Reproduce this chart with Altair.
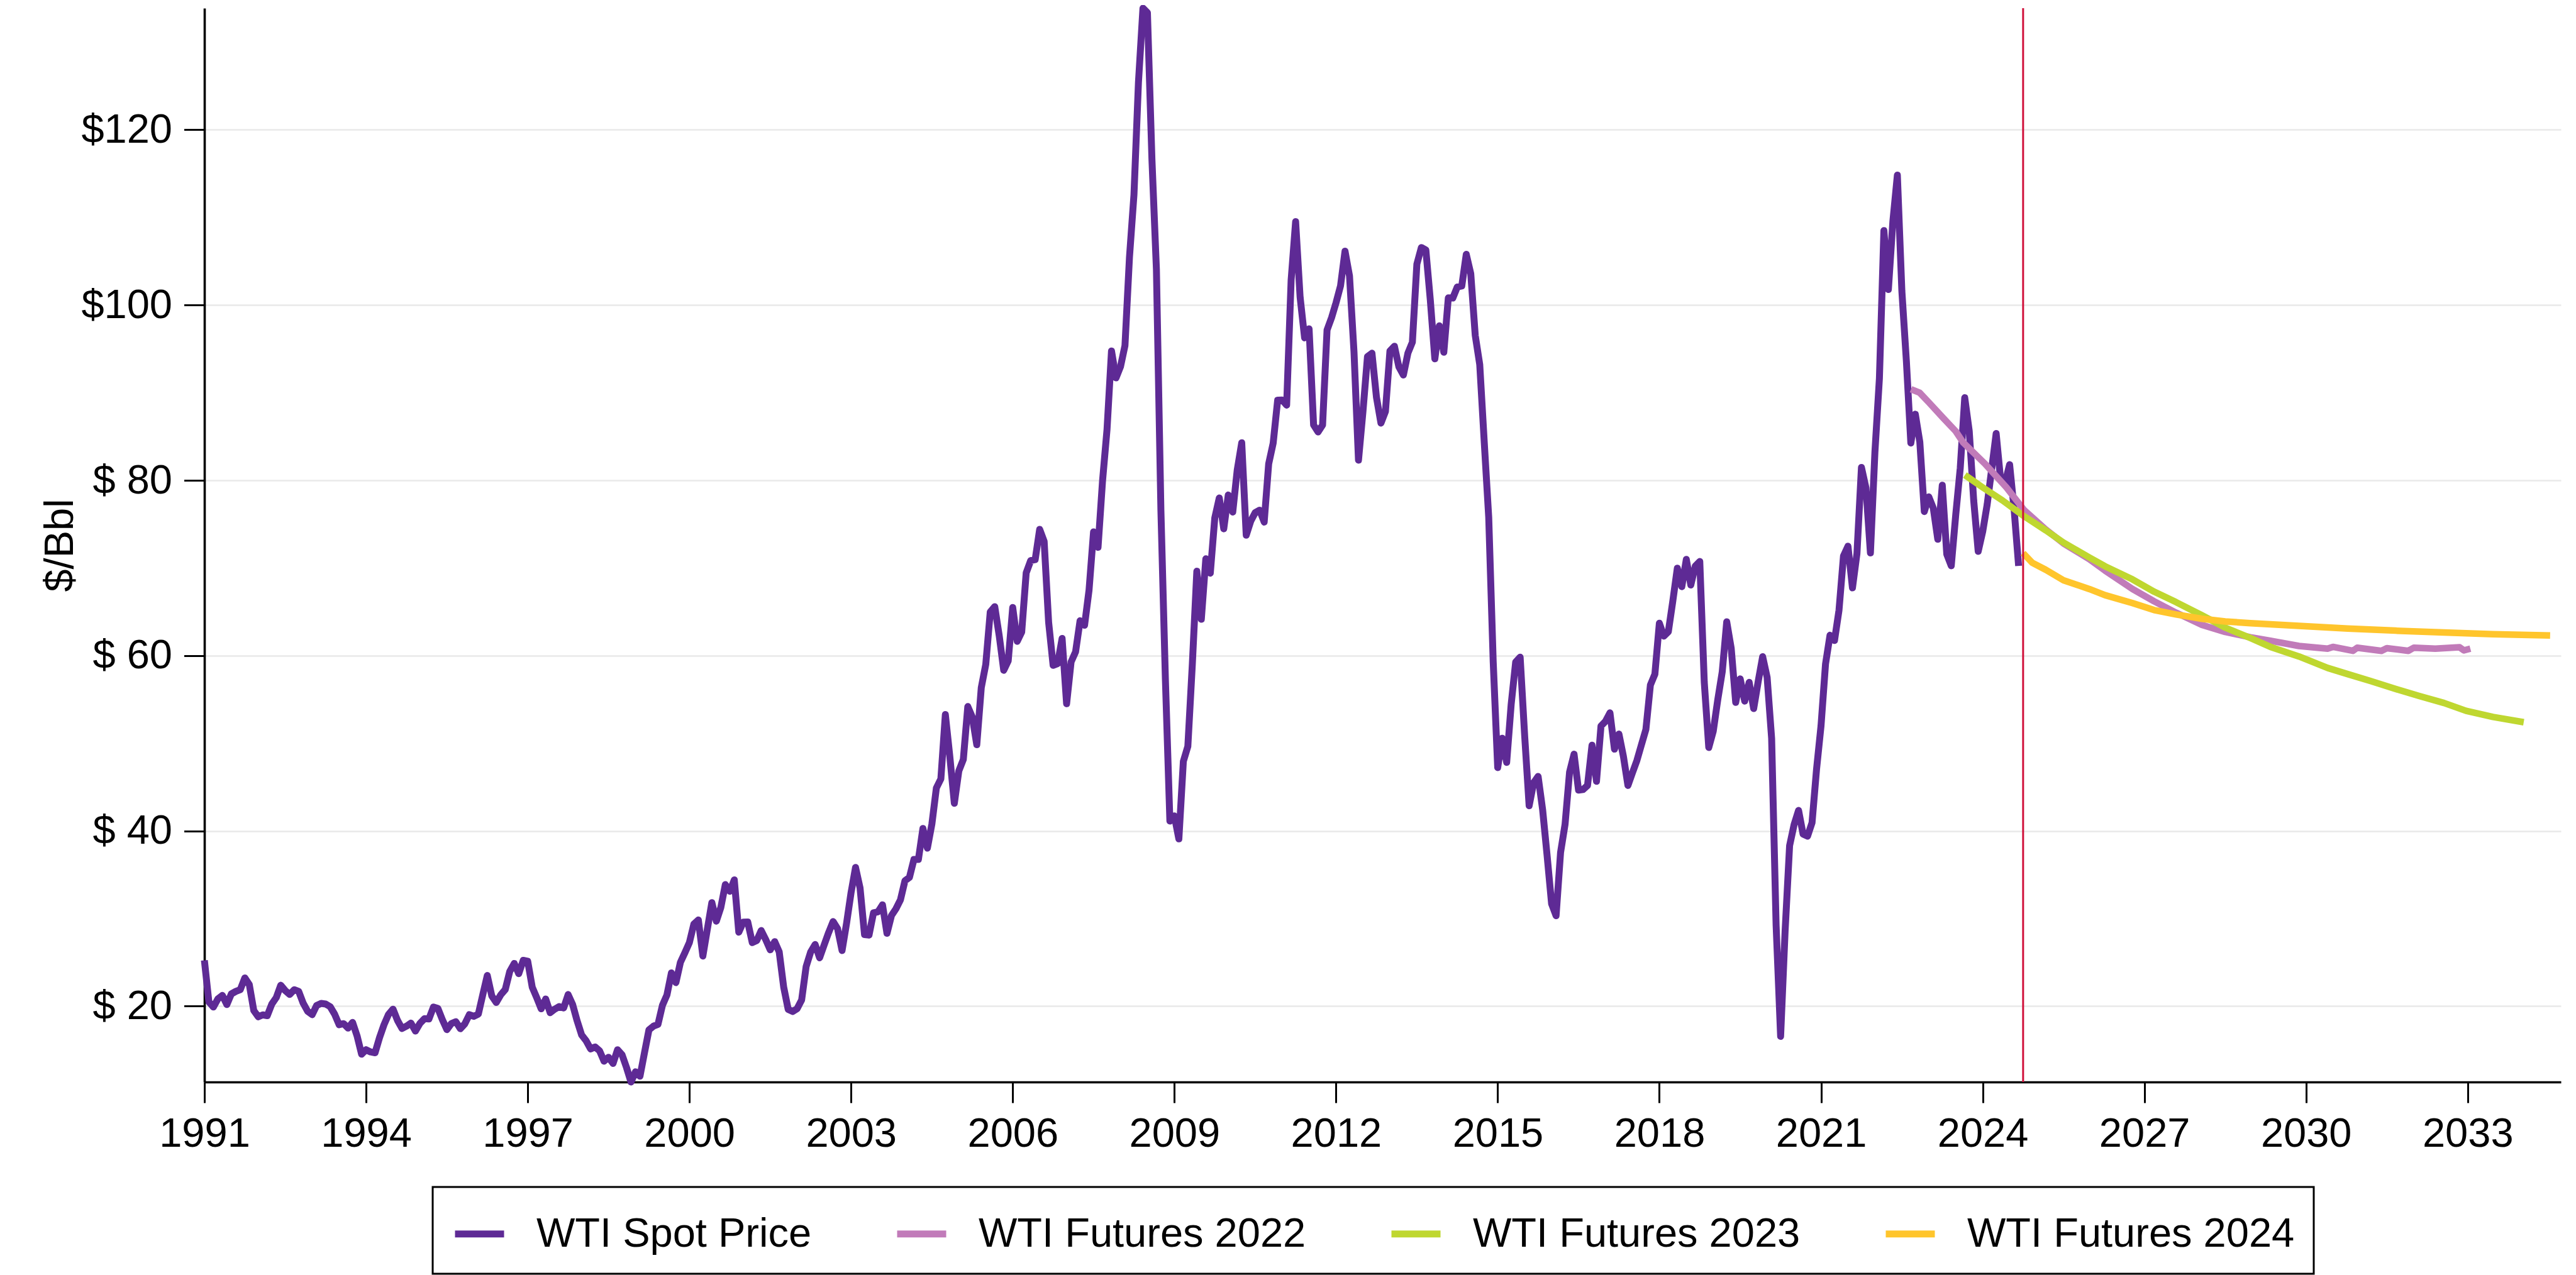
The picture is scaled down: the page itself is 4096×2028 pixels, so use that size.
import altair as alt
import pandas as pd

FONT = "Liberation Sans"

# ---- Data -------------------------------------------------------------
series_names = ["WTI Spot Price", "WTI Futures 2022", "WTI Futures 2023", "WTI Futures 2024"]
series_colors = ["#5E2A95", "#C17BB9", "#BFD730", "#FFC52C"]
series_widths = [11, 10.5, 10.5, 10.5]

# Monthly WTI spot price, Jan 1991 .. Sep 2024 ($/Bbl)
spot_start_year = 1991
spot_prices = [
    25.23, 20.48, 19.90, 20.83, 21.23, 20.19, 21.40, 21.69, 21.89, 23.23, 22.46, 19.50,  # 1991
    18.79, 19.01, 18.92, 20.23, 20.98, 22.39, 21.78, 21.34, 21.88, 21.69, 20.34, 19.41,  # 1992
    19.03, 20.09, 20.32, 20.25, 19.95, 19.09, 17.89, 18.01, 17.50, 18.15, 16.61, 14.52,  # 1993
    15.03, 14.78, 14.68, 16.42, 17.89, 19.06, 19.66, 18.38, 17.45, 17.72, 18.07, 17.16,  # 1994
    18.04, 18.57, 18.54, 19.90, 19.74, 18.45, 17.33, 18.02, 18.23, 17.43, 17.99, 19.03,  # 1995
    18.85, 19.09, 21.33, 23.50, 21.17, 20.42, 21.30, 21.90, 23.97, 24.88, 23.71, 25.23,  # 1996
    25.13, 22.18, 20.97, 19.70, 20.82, 19.26, 19.66, 19.95, 19.80, 21.33, 20.19, 18.33,  # 1997
    16.72, 16.06, 15.12, 15.35, 14.91, 13.72, 14.17, 13.47, 15.03, 14.46, 13.00, 11.35,  # 1998
    12.52, 12.01, 14.68, 17.31, 17.72, 17.92, 20.10, 21.28, 23.80, 22.69, 25.00, 26.10,  # 1999
    27.26, 29.37, 29.84, 25.72, 28.79, 31.82, 29.70, 31.26, 33.88, 33.11, 34.42, 28.44,  # 2000
    29.59, 29.61, 27.25, 27.49, 28.63, 27.60, 26.43, 27.37, 26.20, 22.17, 19.64, 19.39,  # 2001
    19.72, 20.72, 24.53, 26.18, 27.04, 25.52, 26.97, 28.39, 29.66, 28.84, 26.35, 29.46,  # 2002
    32.95, 35.83, 33.51, 28.17, 28.11, 30.66, 30.76, 31.57, 28.31, 30.34, 31.11, 32.13,  # 2003
    34.31, 34.69, 36.74, 36.75, 40.28, 38.03, 40.78, 44.90, 45.94, 53.28, 48.47, 43.15,  # 2004
    46.84, 48.15, 54.19, 52.98, 49.83, 56.35, 59.00, 64.99, 65.59, 62.26, 58.32, 59.41,  # 2005
    65.49, 61.63, 62.69, 69.44, 70.84, 70.95, 74.41, 73.04, 63.80, 58.89, 59.08, 61.96,  # 2006
    54.51, 59.28, 60.44, 63.98, 63.46, 67.49, 74.12, 72.36, 79.92, 85.80, 94.77, 91.69,  # 2007
    92.97, 95.39, 105.45, 112.58, 125.40, 133.88, 133.37, 116.67, 104.11, 76.61, 57.31, 41.12,  # 2008
    41.71, 39.09, 47.94, 49.65, 59.03, 69.64, 64.15, 71.05, 69.41, 75.72, 77.99, 74.47,  # 2009
    78.33, 76.39, 81.20, 84.29, 73.74, 75.34, 76.32, 76.60, 75.24, 81.89, 84.25, 89.15,  # 2010
    89.17, 88.58, 102.86, 109.53, 100.90, 96.26, 97.30, 86.33, 85.52, 86.32, 97.16, 98.56,  # 2011
    100.27, 102.20, 106.16, 103.32, 94.66, 82.30, 87.90, 94.13, 94.51, 89.49, 86.53, 87.86,  # 2012
    94.76, 95.31, 92.94, 92.02, 94.51, 95.77, 104.67, 106.57, 106.29, 100.54, 93.86, 97.63,  # 2013
    94.62, 100.82, 100.80, 102.07, 102.18, 105.79, 103.59, 96.54, 93.21, 84.40, 75.79, 59.29,  # 2014
    47.22, 50.58, 47.82, 54.45, 59.27, 59.82, 50.90, 42.87, 45.48, 46.22, 42.44, 37.19,  # 2015
    31.68, 30.32, 37.55, 40.75, 46.71, 48.76, 44.65, 44.72, 45.18, 49.78, 45.66, 51.97,  # 2016
    52.50, 53.47, 49.33, 51.06, 48.48, 45.18, 46.63, 48.04, 49.82, 51.58, 56.64, 57.88,  # 2017
    63.70, 62.23, 62.73, 66.25, 69.98, 67.87, 70.98, 68.06, 70.23, 70.75, 56.96, 49.52,  # 2018
    51.38, 54.95, 58.15, 63.86, 60.83, 54.66, 57.35, 54.81, 56.95, 53.96, 57.03, 59.88,  # 2019
    57.52, 50.54, 29.21, 16.55, 28.56, 38.31, 40.71, 42.34, 39.63, 39.40, 40.94, 47.02,  # 2020
    52.00, 59.04, 62.33, 61.72, 65.17, 71.38, 72.49, 67.73, 71.65, 81.48, 79.15, 71.71,  # 2021
    83.22, 91.64, 108.50, 101.78, 109.55, 114.84, 101.62, 93.67, 84.26, 87.55, 84.37, 76.44,  # 2022
    78.12, 76.83, 73.28, 79.45, 71.58, 70.25, 76.07, 81.39, 89.43, 85.64, 77.69, 71.90,  # 2023
    74.15, 77.25, 81.28, 85.35, 80.02, 79.77, 81.80, 76.68, 70.24,  # 2024
]

# Futures strips (decimal year, $/Bbl)
fut22_dates = [2022.67, 2022.83, 2023.0, 2023.27, 2023.5, 2023.64, 2024.04, 2024.44, 2024.77,
               2025.17, 2025.5, 2025.98, 2026.27, 2026.78, 2027.18, 2027.59, 2028.07, 2028.5,
               2028.97, 2029.34, 2029.87, 2030.4, 2030.5, 2030.87, 2030.95, 2031.4, 2031.5,
               2031.9, 2032.0, 2032.4, 2032.85, 2032.93, 2033.05]
fut22_values = [90.4, 90.0, 88.9, 87.1, 85.6, 84.3, 81.9, 79.2, 76.6,
                74.4, 72.8, 71.0, 69.7, 67.6, 66.2, 64.9, 63.5, 62.7,
                62.1, 61.7, 61.1, 60.8, 61.0, 60.55, 60.9, 60.55, 60.85,
                60.55, 60.9, 60.8, 60.95, 60.6, 60.8]

fut23_dates = [2023.67, 2024.0, 2024.37, 2024.77, 2025.17, 2025.5, 2025.98, 2026.27, 2026.78,
               2027.18, 2027.59, 2028.07, 2028.5, 2028.97, 2029.34, 2029.87, 2030.4, 2030.77,
               2031.2, 2031.66, 2032.1, 2032.56, 2032.97, 2033.47, 2034.04]
fut23_values = [80.6, 79.2, 77.7, 75.9, 74.3, 72.9, 71.2, 70.2, 68.7,
                67.3, 66.1, 64.6, 63.2, 62.0, 61.0, 59.9, 58.6, 57.9,
                57.1, 56.2, 55.4, 54.6, 53.7, 53.0, 52.4]

fut24_dates = [2024.75, 2024.92, 2025.17, 2025.5, 2025.98, 2026.27, 2026.78, 2027.18, 2027.59,
               2028.07, 2028.5, 2028.97, 2029.87, 2030.77, 2031.66, 2032.56, 2033.47, 2034.53]
fut24_values = [71.7, 70.6, 69.8, 68.6, 67.6, 66.9, 66.0, 65.2, 64.7,
                64.2, 63.9, 63.7, 63.4, 63.1, 62.85, 62.65, 62.45, 62.3]

marker_date = [2024.75]

x_ticks = [1991, 1994, 1997, 2000, 2003, 2006, 2009, 2012, 2015, 2018, 2021, 2024, 2027, 2030, 2033]
y_ticks = [20, 40, 60, 80, 100, 120]

# ---- Table ------------------------------------------------------------
rows = []
for i, v in enumerate(spot_prices):
    rows.append({"date": spot_start_year + i / 12.0, "price": v, "series": series_names[0]})
for name, ds, vs in [(series_names[1], fut22_dates, fut22_values),
                     (series_names[2], fut23_dates, fut23_values),
                     (series_names[3], fut24_dates, fut24_values)]:
    for d, v in zip(ds, vs):
        rows.append({"date": d, "price": v, "series": name})
df = pd.DataFrame(rows)

# ---- Encodings --------------------------------------------------------
x_enc = alt.X(
    "date:Q",
    scale=alt.Scale(domain=[1991, 2034.73], nice=False, zero=False),
    axis=alt.Axis(values=x_ticks, format="d", title=None, grid=False,
                  tickSize=33, labelPadding=18, labelFlush=False),
)
y_enc = alt.Y(
    "price:Q",
    scale=alt.Scale(domain=[11.35, 133.88], nice=False, zero=False),
    axis=alt.Axis(values=y_ticks, grid=True, tickSize=32.5, labelPadding=19,
                  labelExpr="datum.value >= 100 ? '$' + datum.value : '$ ' + datum.value",
                  title="$/Bbl", titleAngle=270, titleAlign="center", titleBaseline="middle",
                  titleX=-230, titleY=854),
)
color_enc = alt.Color(
    "series:N",
    scale=alt.Scale(domain=series_names, range=series_colors),
    legend=alt.Legend(
        title=None, orient="none", legendX=363, legendY=1875,
        direction="horizontal", columns=4,
        symbolType="stroke", symbolSize=6084, symbolStrokeWidth=11,
        labelFont=FONT, labelFontSize=65, labelColor="black", labelLimit=2000,
        labelOffset=46, columnPadding=113, padding=30, strokeColor="black",
    ),
)

base = alt.Chart(df)
layers = []
for name, w in zip(series_names, series_widths):
    layers.append(
        base.transform_filter(alt.datum.series == name)
        .mark_line(strokeWidth=w, strokeJoin="round")
        .encode(x=x_enc, y=y_enc, color=color_enc)
    )

rule = (
    alt.Chart(pd.DataFrame({"date": marker_date}))
    .mark_rule(color="#D0103A", strokeWidth=3)
    .encode(x=x_enc)
)

chart = (
    alt.layer(*layers, rule)
    .properties(
        width=3747, height=1708, autosize="none",
        padding={"left": 317, "top": 5, "right": 16, "bottom": 307},
        background="white",
    )
    .configure_view(stroke=None)
    .configure_axis(
        domainColor="black", domainWidth=3.6, tickColor="black", tickWidth=3,
        labelFont=FONT, labelFontSize=65, labelColor="black",
        titleFont=FONT, titleFontSize=65, titleColor="black", titleFontWeight="normal",
        gridColor="#E9E9E9", gridWidth=2.5,
    )
    .configure_legend(strokeWidth=3)
)

chart.save("out.html", embed_options={"renderer": "svg", "actions": False})
